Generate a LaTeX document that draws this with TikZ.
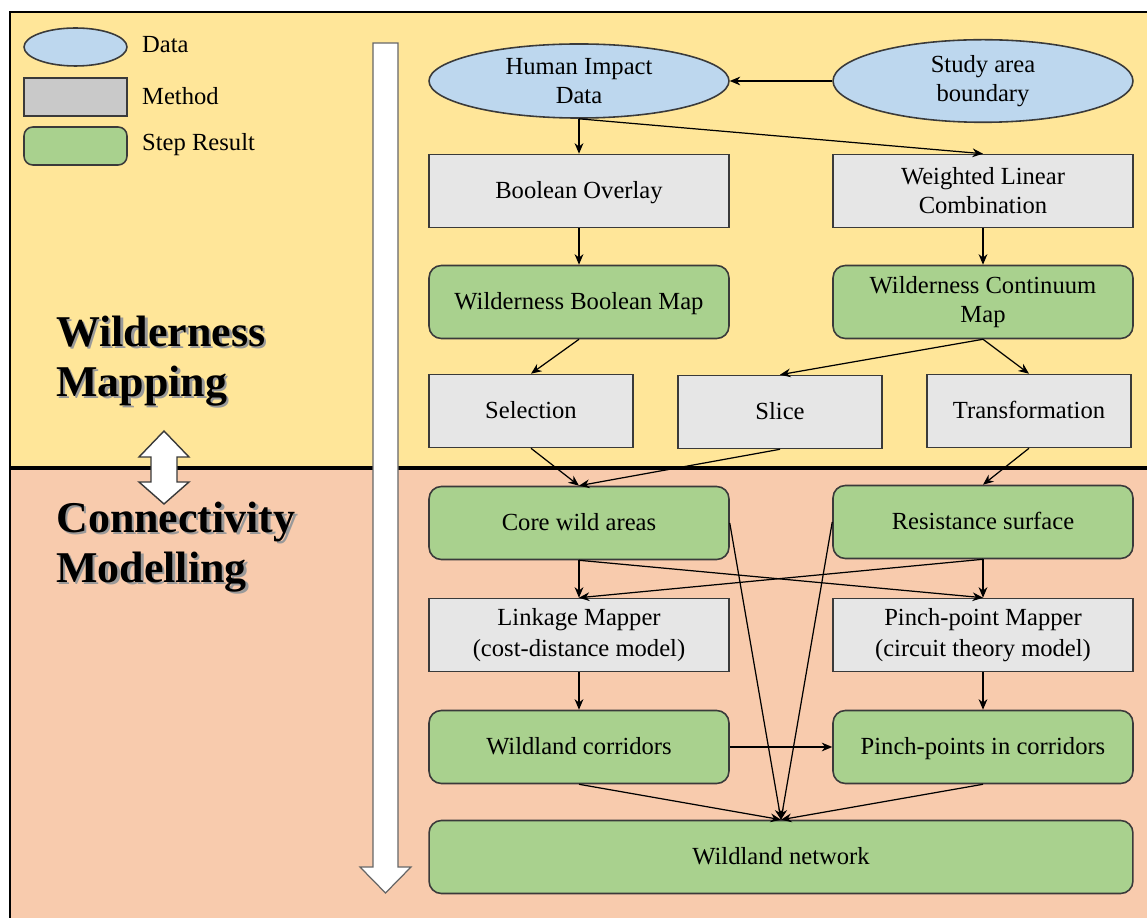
\documentclass[tikz,border=0pt]{standalone}
\usepackage{fontspec}
\setmainfont{Liberation Serif}
\usetikzlibrary{shapes.geometric,arrows.meta}
\definecolor{bgY}{HTML}{FFE699}
\definecolor{bgS}{HTML}{F8CBAD}
\definecolor{dBlue}{HTML}{BDD7EE}
\definecolor{mGrey}{HTML}{E6E6E6}
\definecolor{lGrey}{HTML}{C9C9C9}
\definecolor{sGreen}{HTML}{A9D18E}
\definecolor{bord}{HTML}{3A3A3A}
\begin{document}
\begin{tikzpicture}[x=0.02cm,y=-0.02cm,
  base/.style={draw=bord,line width=0.9pt,align=center,inner sep=2pt,font=\fontsize{14}{16.5}\selectfont},
  one/.style={text height=1.05em,text depth=0.22em},
  data/.style={base,ellipse,fill=dBlue,minimum width=6cm,minimum height=1.46cm},
  meth/.style={base,rectangle,fill=mGrey,minimum width=6cm,minimum height=1.46cm},
  smeth/.style={meth,minimum width=4.08cm},
  res/.style={base,rectangle,rounded corners=7pt,fill=sGreen,minimum width=6cm,minimum height=1.46cm},
  arr/.style={-{Stealth[length=6pt,width=5pt]},line width=0.7pt,black},
  leg/.style={anchor=west,font=\fontsize{14}{16}\selectfont},
  ttl/.style={anchor=base west,inner sep=0pt,font=\fontsize{25}{30}\selectfont\bfseries},
  shd/.style={ttl,text=black!40}
]
\useasboundingbox (0,0) rectangle (1147,918);
\fill[bgY] (10,12) rectangle (1147,468);
\fill[bgS] (10,468) rectangle (1147,918);
\draw[line width=1.6pt] (10,918) -- (10,12) -- (1147,12);
\draw[line width=2pt] (10,468) -- (1147,468);

% legend
\node[data,minimum width=2.06cm,minimum height=0.76cm] (lgd) at (75.5,47) {};
\node[meth,fill=lGrey,minimum width=2.06cm,minimum height=0.76cm] (lgm) at (75.5,97) {};
\node[res,minimum width=2.06cm,minimum height=0.76cm,rounded corners=5pt] (lgr) at (75.5,146) {};
\node[leg] (lgdt) at (136,45) {Data};
\node[leg] (lgmt) at (136,96) {Method};
\node[leg] (lgrt) at (136,145) {Step Result};

% titles
\node[shd] (t1s) at (58.5,348.5) {Wilderness};
\node[ttl] (t1) at (56,347) {Wilderness};
\node[shd] (t2s) at (58.5,398.5) {Mapping};
\node[ttl] (t2) at (56,397) {Mapping};
\node[shd] (t3s) at (58.5,534.5) {Connectivity};
\node[ttl] (t3) at (56,533) {Connectivity};
\node[shd] (t4s) at (58.5,584.5) {Modelling};
\node[ttl] (t4) at (56,583) {Modelling};

% double arrow
\draw[fill=white,draw=bord,line width=0.8pt] (164,431) -- (189,457) -- (177,457) -- (177,482) -- (189,482) -- (164,504) -- (139,482) -- (151,482) -- (151,457) -- (139,457) -- cycle;

% big down arrow
\draw[fill=white,draw=black!60,line width=0.7pt] (373,43) -- (398,43) -- (398,867) -- (411,867) -- (385.5,893) -- (360,867) -- (373,867) -- cycle;

% nodes
\node[data] (hid) at (579,81) {Human Impact\\Data};
\node[data] (sab) at (983,81) {Study area\\boundary};
\node[meth,one] (bo) at (579,191) {Boolean Overlay};
\node[meth] (wlc) at (983,191) {Weighted Linear\\Combination};
\node[res,one] (wbm) at (579,302) {Wilderness Boolean Map};
\node[res] (wcm) at (983,302) {Wilderness Continuum\\Map};
\node[smeth,one] (sel) at (531,411) {Selection};
\node[smeth,one] (sli) at (780,412) {Slice};
\node[smeth,one] (tra) at (1029,411) {Transformation};
\node[res,one] (core) at (579,523) {Core wild areas};
\node[res,one] (rs) at (983,522) {Resistance surface};
\node[meth,font=\fontsize{14}{17.5}\selectfont] (lm) at (579,635) {Linkage Mapper\\(cost-distance model)};
\node[meth,font=\fontsize{14}{17.5}\selectfont] (pm) at (983,635) {Pinch-point Mapper\\(circuit theory model)};
\node[res,one] (wc) at (579,747) {Wildland corridors};
\node[res,one] (pp) at (983,747) {Pinch-points in corridors};
\node[res,one,minimum width=14.08cm] (net) at (781,857) {Wildland network};

% connectors
\draw[arr] (sab.west) -- (hid.east);
\draw[arr] (hid.south) -- (bo.north);
\draw[arr] (hid.south) -- (wlc.north);
\draw[arr] (wlc) -- (wcm);
\draw[arr] (bo) -- (wbm);
\draw[arr] (wbm.south) -- (sel.north);
\draw[arr] (wcm.south) -- (sli.north);
\draw[arr] (wcm.south) -- (tra.north);
\draw[arr] (sel.south) -- (core.north);
\draw[arr] (sli.south) -- (core.north);
\draw[arr] (tra.south) -- (rs.north);
\draw[arr] (core.south) -- (lm.north);
\draw[arr] (core.south) -- (pm.north);
\draw[arr] (rs.south) -- (lm.north);
\draw[arr] (rs.south) -- (pm.north);
\draw[arr] (core.east) -- (net.north);
\draw[arr] (rs.west) -- (net.north);
\draw[arr] (lm) -- (wc);
\draw[arr] (pm) -- (pp);
\draw[arr] (wc) -- (pp);
\draw[arr] (wc.south) -- (net.north);
\draw[arr] (pp.south) -- (net.north);
\end{tikzpicture}
\end{document}
